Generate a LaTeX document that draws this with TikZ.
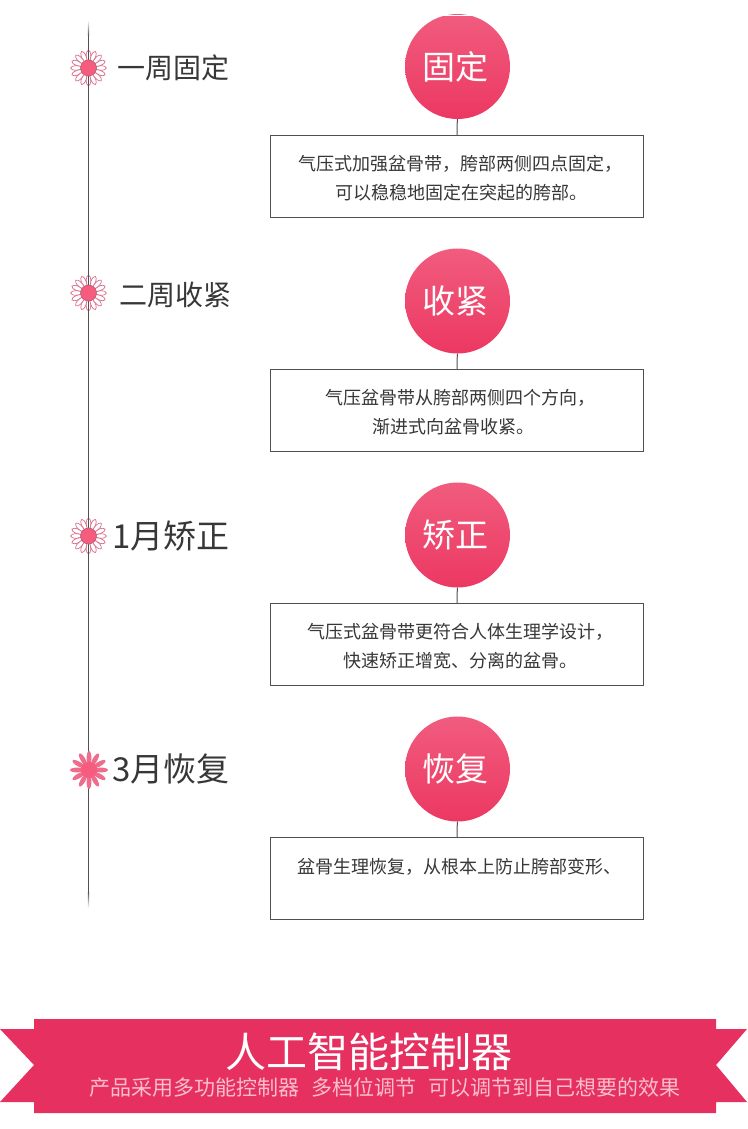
\documentclass[tikz,border=0pt]{standalone}
\usepackage{fontspec}
\usepackage{xcolor}
\usetikzlibrary{positioning}
\setmainfont{Noto Sans CJK SC}
\definecolor{linegrey}{RGB}{80,80,80}
\definecolor{textgrey}{RGB}{55,55,55}
\definecolor{rosetop}{RGB}{241,92,126}
\definecolor{rosebot}{RGB}{236,56,98}
\definecolor{ribbon}{RGB}{229,48,96}
\definecolor{subpink}{RGB}{250,190,205}
\definecolor{petaledge}{RGB}{218,110,140}
\definecolor{petalfill}{RGB}{238,108,140}
\definecolor{heart}{RGB}{245,92,126}
\newcommand{\stagetxt}[1]{\hspace*{-4pt}\raisebox{-4pt}{#1}}
\newcommand{\infoln}[1]{\raisebox{-2pt}[\height][\depth]{#1}}

\begin{document}
\begin{tikzpicture}[x=1pt,y=-1pt,
  stagec/.style={circle,minimum size=105pt,inner sep=0pt,top color=rosetop,bottom color=rosebot,text=white,font=\fontsize{33}{33}\selectfont},
  infob/.style={draw=linegrey,line width=1pt,fill=white,minimum width=373pt,minimum height=82pt,align=center,inner sep=0pt,text=textgrey,font=\fontsize{18}{29}\selectfont},
  when/.style={anchor=west,inner sep=0pt,text=textgrey,font=\fontsize{28}{28}\selectfont},
  whenb/.style={when,font=\fontsize{33}{33}\selectfont},
  heartc/.style={circle,minimum size=16pt,inner sep=0pt,fill=heart,draw=petaledge!80!black,line width=0.5pt},
  ln/.style={draw=linegrey,line width=1.5pt}]
\useasboundingbox (0,0) rectangle (747,1129);
% flowers
\foreach \fy in {68,293,536} {
  \foreach \a in {0,22.5,...,337.5}
    \draw[petaledge,line width=0.7pt,fill=white,fill opacity=0.6,rotate around={\a:(88.5,\fy)}] (100.5,\fy) ellipse (6pt and 2.3pt);
}
% timeline
\coordinate (tl1) at (88.5,36);
\coordinate (tl2) at (88.5,892);
\shade[top color=white,bottom color=linegrey] (87.8,20) rectangle (89.2,36);
\shade[top color=linegrey,bottom color=white] (87.8,892) rectangle (89.2,908);
\draw[ln] (tl1) -- (tl2);
\foreach \a in {0,30,...,330}
  \fill[petalfill,rotate around={\a:(89,770)}] (101,770) ellipse (7pt and 2.4pt);
\node[heartc] (f1) at (88.5,68) {};
\node[heartc] (f2) at (88.5,293) {};
\node[heartc] (f3) at (88.5,536) {};
\node[heartc,draw=none] (f4) at (89,770) {};
% left labels
\node[when] (w1) at (117,68) {一周固定};
\node[when] (w2) at (119,295) {二周收紧};
\node[whenb] (w3) at (112,536) {1月矫正};
\node[whenb] (w4) at (112,769) {3月恢复};
% circles and boxes
\node[stagec] (c1) at (457.5,66.5) {\stagetxt{固定}};
\node[stagec] (c2) at (457.5,301) {\stagetxt{收紧}};
\node[stagec] (c3) at (457.5,535) {\stagetxt{矫正}};
\node[stagec] (c4) at (457.5,769) {\stagetxt{恢复}};
\draw[white,line width=1pt] (430,15.5) -- (485,15.5);
\node[infob] (b1) at (457,176.5) {\hspace*{6pt}\infoln{气压式加强盆骨带，胯部两侧四点固定，}\\\hspace*{8pt}\infoln{可以稳稳地固定在突起的胯部。}};
\node[infob] (b2) at (457,410.5) {\hspace*{6pt}\infoln{气压盆骨带从胯部两侧四个方向，}\\\hspace*{-8pt}\infoln{渐进式向盆骨收紧。}};
\node[infob] (b3) at (457,644.5) {\hspace*{6pt}\infoln{气压式盆骨带更符合人体生理学设计，}\\\hspace*{6pt}\infoln{快速矫正增宽、分离的盆骨。}};
\node[infob] (b4) at (457,878.5) {\hspace*{4pt}\infoln{盆骨生理恢复，从根本上防止胯部变形、}\\~};
\foreach \x in {1,2,3,4} \draw[ln,line width=1pt] (c\x) -- (b\x);
% ribbon
\fill[ribbon] (34,1019) -- (716,1019) -- (716,1029) -- (747,1029) -- (716,1065) -- (747,1102) -- (716,1102) -- (716,1113) -- (34,1113) -- (34,1102) -- (0,1102) -- (34,1065) -- (0,1029) -- (34,1029) -- cycle;
\node[inner sep=0pt,text=white,font=\fontsize{41}{41}\selectfont] (rt) at (369,1052) {人工智能控制器};
\node[inner sep=0pt,text=subpink,font=\fontsize{21}{21}\selectfont] (rs) at (385,1088) {产品采用多功能控制器\hspace{12pt}多档位调节\hspace{12pt}可以调节到自己想要的效果};
\end{tikzpicture}
\end{document}
